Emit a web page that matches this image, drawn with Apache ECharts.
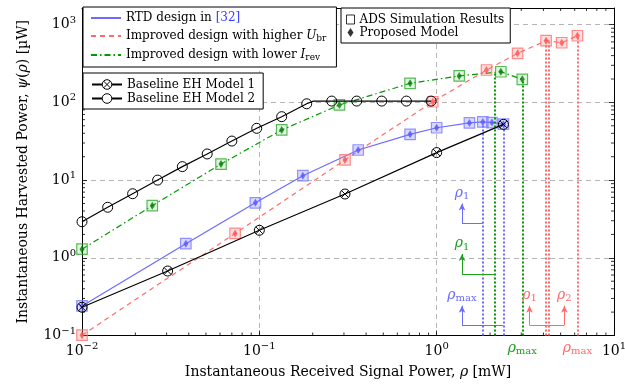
<!DOCTYPE html>
<html><head><meta charset="utf-8">
<script src="https://cdn.jsdelivr.net/npm/echarts@6/dist/echarts.min.js"></script>
<style>html,body{margin:0;padding:0;background:#fff}#c{width:625px;height:389px}</style>
</head><body><div id="c"></div>
<script>
const FONT = 'DejaVu Serif';
// ---------- data ----------
const blueX  = [0.01, 0.0385, 0.095, 0.176, 0.361, 0.708, 1.0, 1.53, 1.82, 2.05, 2.38];
const blueY  = [0.24, 1.52, 5.1, 11.4, 24.4, 38.8, 47.2, 54.5, 56, 55, 52.5];
const redX   = [0.01, 0.073, 0.304, 0.95, 1.91, 2.86, 4.14, 5.07, 6.22];
const redY   = [0.101, 2.06, 18.2, 102, 261, 428, 622, 586, 721];
const greenX = [0.01, 0.0249, 0.0608, 0.1337, 0.283, 0.708, 1.34, 2.3, 3.04];
const greenY = [1.29, 4.69, 16.1, 44.2, 92.7, 176, 219, 248, 198];
const m1X = [0.01, 0.0304, 0.1, 0.304, 1.0, 2.38];
const m1Y = [0.231, 0.676, 2.26, 6.62, 22.6, 52.2];
const m2X = [0.01, 0.01396, 0.0193, 0.0267, 0.0368, 0.0508, 0.070, 0.0967, 0.1337, 0.185, 0.2018, 0.256, 0.354, 0.49, 0.675, 0.93];
const m2Y = [2.91, 4.47, 6.68, 10.0, 14.9, 21.7, 31.8, 46.4, 65.5, 96, 104, 104, 104, 104, 104, 104];
const m2Marker = [1,1,1,1,1,1,1,1,1,1,0,1,1,1,1,1];
// rho thresholds (vertical dotted lines): [x, y where line starts]
const blueRho  = {rho1:[1.82, 56], rhoMax:[2.38, 52.5]};
const greenRho = {rho1:[2.13, 235], rhoMax:[3.04, 198]};
const redRho   = {rho1:[4.14, 622], rho2:[4.30, 612], rhoMax:[6.22, 721]};
// annotation bracket anchors (data coords)
const brX = 1.39, brRedL = 3.34, brRedR = 5.25;
const brLevels = {blue1:[2.78, 5.0], green1:[0.619, 1.12], max:[0.1365, 0.242]};
const xMin = 0.01, xMax = 10, yMin = 0.1, yMax = 1640;

const NB = 'RTD design in [32]';
const NR = 'Improved design with higher Ubr';
const NG = 'Improved design with lower Irev';
const BLUE = '#6b6bff', RED = '#ff6b6b', GREEN = '#009900', GREENL = '#1fa01f';

const zip = (xs, ys) => xs.map((x, i) => [x, ys[i]]);
const xMinor = []; [0.01, 0.1, 1].forEach(d => { for (let k = 2; k <= 9; k++) xMinor.push([k * d, 1]); });
const yMinor = []; [0.1, 1, 10, 100, 1000].forEach(d => { for (let k = 2; k <= 9; k++) if (k * d < yMax) yMinor.push([1, k * d]); });

function powLabel(v) {
  const l = Math.log10(v), e = Math.round(l);
  if (Math.abs(l - e) > 1e-6) return '';
  return '{b|10}{e|' + (e < 0 ? '\u2212' + (-e) : e) + '}';
}
const powRich = { b: {fontSize: 14, fontFamily: FONT, color: '#000'}, e: {fontSize: 10, fontFamily: FONT, color: '#000', padding: [0, 0, 9, 0]} };

const rhoRich = c => ({ r: {fontSize: 14, fontStyle: 'italic', fontFamily: FONT, color: c}, s: {fontSize: 10, fontFamily: FONT, color: c, padding: [7, 0, 0, 0]} });

function vline(p, color, label, lc) {
  const ls = {color: color, type: [2, 2], width: 2};
  const lab = label ? {show: true, position: 'start', distance: 4, formatter: label, rich: rhoRich(lc || color)} : {show: false};
  return [{coord: [p[0], yMin], symbol: 'none', lineStyle: ls, label: lab}, {coord: [p[0], p[1]], symbol: 'none', lineStyle: ls, label: lab}];
}
function hseg(x1, x2, y, color) {
  const ls = {color: color, type: 'solid', width: 1};
  return [{coord: [x1, y], symbol: 'none', lineStyle: ls, label: {show: false}}, {coord: [x2, y], symbol: 'none', lineStyle: ls, label: {show: false}}];
}
function arrow(x, y1, y2, color, label) {
  const ls = {color: color, type: 'solid', width: 1};
  const lab = {show: true, position: 'end', distance: 2, formatter: label, rich: rhoRich(color)};
  return [{coord: [x, y1], symbol: 'none', lineStyle: ls, label: lab}, {coord: [x, y2], symbol: 'arrow', lineStyle: ls, label: lab}];
}
const ml = data => ({silent: true, symbolSize: [5, 7], animation: false, label: {show: false}, emphasis: {disabled: true}, data: data});

const O_SYM = 'path://M-1,0A1,1,0,1,0,1,0A1,1,0,1,0,-1,0ZM-0.7071,-0.7071L0.7071,0.7071M-0.7071,0.7071L0.7071,-0.7071';

function squares(xs, ys, stroke, fill) {
  return {type: 'scatter', name: 'ADS Simulation Results', data: zip(xs, ys), symbol: 'rect', symbolSize: 10.5, z: 3,
    itemStyle: {color: fill, borderColor: stroke, borderWidth: 1.2}, emphasis: {disabled: true}};
}
function diamonds(xs, ys, c) {
  return {type: 'scatter', name: 'Proposed Model', data: zip(xs, ys), symbol: 'diamond', symbolSize: [5, 8], z: 4,
    itemStyle: {color: c}, emphasis: {disabled: true}};
}
function minorRender(isX) {
  return function (params, api) {
    const cs = params.coordSys;
    const p = api.coord([api.value(0), api.value(1)]);
    const st = {stroke: '#000', lineWidth: 0.8};
    if (isX) return {type: 'group', children: [
      {type: 'line', shape: {x1: p[0], y1: cs.y + cs.height, x2: p[0], y2: cs.y + cs.height - 3}, style: st},
      {type: 'line', shape: {x1: p[0], y1: cs.y, x2: p[0], y2: cs.y + 3}, style: st}]};
    return {type: 'group', children: [
      {type: 'line', shape: {x1: cs.x, y1: p[1], x2: cs.x + 3, y2: p[1]}, style: st},
      {type: 'line', shape: {x1: cs.x + cs.width, y1: p[1], x2: cs.x + cs.width - 3, y2: p[1]}, style: st}]};
  };
}
const axisCommon = {type: 'log', logBase: 10, axisLine: {show: true, onZero: false, lineStyle: {color: '#000', width: 1}},
  axisTick: {show: true, inside: true, length: 5, lineStyle: {color: '#000', width: 0.8}}, splitLine: {show: false}, z: 1};
const gridAxis = {type: 'log', logBase: 10, axisLine: {show: false}, axisTick: {show: false}, axisLabel: {show: false}, z: 0,
  splitLine: {show: true, lineStyle: {color: '#b5b5b5', type: [5, 4], width: 1}}};
const nameRich = { n: {fontSize: 14, fontFamily: FONT, color: '#000'}, i: {fontSize: 14, fontFamily: FONT, fontStyle: 'italic', color: '#000'} };

const legendBase = {orient: 'vertical', backgroundColor: '#fff', borderColor: '#000', borderWidth: 1, borderRadius: 0,
  selectedMode: false, textStyle: {fontFamily: FONT, fontSize: 12, color: '#000'}, z: 10};

const option = {
  animation: false,
  textStyle: {fontFamily: FONT, color: '#000'},
  grid: {left: 82, right: 11, top: 8, bottom: 53.5, containLabel: false, outerBoundsMode: 'none'},
  xAxis: [
    Object.assign({}, axisCommon, {min: xMin, max: xMax, position: 'bottom',
      axisLabel: {formatter: powLabel, rich: powRich, margin: 6, color: '#000', showMinLabel: true, showMaxLabel: true, hideOverlap: false},
      name: '{n|Instantaneous Received Signal Power, }{i|\u03c1}{n| [mW]}', nameLocation: 'middle', nameGap: 30, nameMoveOverlap: false,
      nameTextStyle: {rich: nameRich}}),
    Object.assign({}, axisCommon, {min: xMin, max: xMax, position: 'top', axisLabel: {show: false}}),
    Object.assign({}, gridAxis, {min: xMin, max: xMax, position: 'bottom'})
  ],
  yAxis: [
    Object.assign({}, axisCommon, {min: yMin, max: yMax, position: 'left',
      axisLabel: {formatter: powLabel, rich: powRich, margin: 6, color: '#000', showMinLabel: true, showMaxLabel: true, hideOverlap: false},
      name: '{n|Instantaneous Harvested Power, }{i|\u03c8}{n|(}{i|\u03c1}{n|) [\u00b5W]}', nameLocation: 'middle', nameGap: 52, nameMoveOverlap: false,
      nameTextStyle: {rich: nameRich}}),
    Object.assign({}, axisCommon, {min: yMin, max: yMax, position: 'right', axisLabel: {show: false}}),
    Object.assign({}, gridAxis, {min: yMin, max: yMax, position: 'left'})
  ],
  legend: [
    Object.assign({}, legendBase, {left: 83, top: 7, padding: [5, 10, 5, 7], itemWidth: 30, itemHeight: 14, itemGap: 5,
      data: [NB, NR, NG].map(n => ({name: n, itemStyle: {color: 'rgba(0,0,0,0)', borderWidth: 0}})),
      formatter: function (name) {
        if (name === NB) return '{t|RTD design in }{c|[32]}';
        if (name === NR) return '{t|Improved design with higher }{i|U}{s|br}';
        return '{t|Improved design with lower }{i|I}{s|rev}';
      },
      textStyle: {fontFamily: FONT, fontSize: 12, color: '#000', rich: {
        t: {fontSize: 12, fontFamily: FONT, color: '#000', lineHeight: 14},
        c: {fontSize: 12, fontFamily: FONT, color: '#3b3bff', lineHeight: 14},
        i: {fontSize: 12, fontFamily: FONT, fontStyle: 'italic', color: '#000', lineHeight: 14},
        s: {fontSize: 9, fontFamily: FONT, color: '#000', padding: [5, 0, 0, 0], lineHeight: 9}}}}),
    Object.assign({}, legendBase, {left: 341, top: 8, padding: [5, 6, 4, 5], itemWidth: 8, itemHeight: 9, itemGap: 0,
      data: [{name: 'ADS Simulation Results', icon: 'rect', itemStyle: {color: '#fff', borderColor: '#000', borderWidth: 1}},
             {name: 'Proposed Model', icon: 'path://M3,0L6,4.5L3,9L0,4.5Z', itemStyle: {color: '#000', borderWidth: 0}}],
      textStyle: {fontFamily: FONT, fontSize: 12, color: '#000', lineHeight: 13}}),
    Object.assign({}, legendBase, {left: 83, top: 73, padding: [5, 8, 4, 8], itemWidth: 30, itemHeight: 12, itemGap: 1,
      data: [{name: 'Baseline EH Model 1', itemStyle: {color: '#fff', borderColor: '#000', borderWidth: 1}},
             {name: 'Baseline EH Model 2', itemStyle: {color: '#fff', borderColor: '#000', borderWidth: 1}}],
      textStyle: {fontFamily: FONT, fontSize: 12, color: '#000', lineHeight: 13}})
  ],
  series: [
    {type: 'line', name: NB, data: zip(blueX, blueY), symbol: 'none', clip: false, z: 2,
      lineStyle: {color: BLUE, width: 1.2}, itemStyle: {color: BLUE},
      markLine: ml([vline(blueRho.rho1, BLUE), vline(blueRho.rhoMax, BLUE),
        hseg(brX, blueRho.rho1[0], brLevels.blue1[0], BLUE), arrow(brX, brLevels.blue1[0], brLevels.blue1[1], BLUE, '{r|\u03c1}{s|1}'),
        hseg(brX, blueRho.rhoMax[0], brLevels.max[0], BLUE), arrow(brX, brLevels.max[0], brLevels.max[1], BLUE, '{r|\u03c1}{s|max}')])},
    {type: 'line', name: NR, data: zip(redX, redY), symbol: 'none', clip: false, z: 2,
      lineStyle: {color: RED, width: 1.2, type: [5, 4]}, itemStyle: {color: RED},
      markLine: ml([vline(redRho.rho1, RED), vline(redRho.rho2, RED), vline(redRho.rhoMax, RED, '{r|\u03c1}{s|max}'),
        hseg(brRedL, brRedR, brLevels.max[0], RED),
        arrow(brRedL, brLevels.max[0], brLevels.max[1], RED, '{r|\u03c1}{s|1}'),
        arrow(brRedR, brLevels.max[0], brLevels.max[1], RED, '{r|\u03c1}{s|2}')])},
    {type: 'line', name: NG, data: zip(greenX, greenY), symbol: 'none', clip: false, z: 2,
      lineStyle: {color: GREEN, width: 1.2, type: [6, 3, 1.5, 3]}, itemStyle: {color: GREEN},
      markLine: ml([vline(greenRho.rho1, GREEN), vline(greenRho.rhoMax, GREEN, '{r|\u03c1}{s|max}', GREENL),
        hseg(brX, greenRho.rho1[0], brLevels.green1[0], GREENL), arrow(brX, brLevels.green1[0], brLevels.green1[1], GREENL, '{r|\u03c1}{s|1}')])},
    squares(blueX, blueY, '#7a7aff', 'rgba(120,120,255,0.35)'),
    squares(redX, redY, '#ff7070', 'rgba(255,120,120,0.3)'),
    squares(greenX, greenY, '#33aa33', 'rgba(60,190,60,0.2)'),
    diamonds(blueX, blueY, '#5555ff'),
    diamonds(redX, redY, '#ff5050'),
    diamonds(greenX, greenY, '#007a00'),
    {type: 'line', name: 'Baseline EH Model 1', data: zip(m1X, m1Y), symbol: O_SYM, symbolSize: 10, showAllSymbol: true, clip: false, z: 5,
      lineStyle: {color: '#000', width: 1.2}, itemStyle: {color: 'rgba(255,255,255,0)', borderColor: '#000', borderWidth: 1}, emphasis: {disabled: true}},
    {type: 'line', name: 'Baseline EH Model 2', data: m2X.map((x, i) => ({value: [x, m2Y[i]], symbol: m2Marker[i] ? 'circle' : 'none'})),
      symbol: 'circle', symbolSize: 10, showAllSymbol: true, clip: false, z: 5,
      lineStyle: {color: '#000', width: 1.2}, itemStyle: {color: 'rgba(255,255,255,0)', borderColor: '#000', borderWidth: 1}, emphasis: {disabled: true}},
    {type: 'custom', data: xMinor, renderItem: minorRender(true), silent: true, z: 6, clip: false},
    {type: 'custom', data: yMinor, renderItem: minorRender(false), silent: true, z: 6, clip: false}
  ]
};
const chart = echarts.init(document.getElementById('c'), null, {renderer: 'canvas'});
chart.setOption(option);
</script></body></html>
